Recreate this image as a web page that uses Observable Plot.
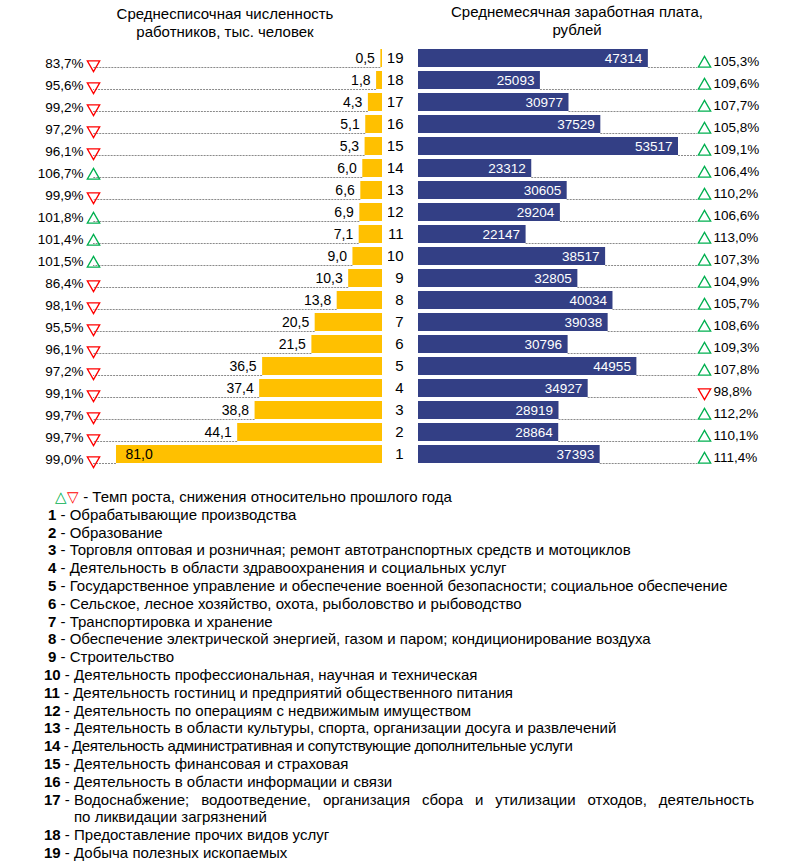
<!DOCTYPE html>
<html><head><meta charset="utf-8">
<script src="https://cdn.jsdelivr.net/npm/d3@7"></script>
<script src="https://cdn.jsdelivr.net/npm/@observablehq/plot@0.6"></script>
<style>
body{margin:0;background:#fff;font-family:"Liberation Sans",Arial,sans-serif;color:#000;}
#wrap{position:relative;width:788px;height:868px;overflow:hidden;}
.title{position:absolute;text-align:center;font-size:15px;line-height:17.5px;width:300px;}
#left{position:absolute;left:0;top:30px;}
#right{position:absolute;left:388px;top:30px;}
#legend{position:absolute;left:0;top:488px;width:788px;font-size:15px;line-height:17.8px;}
#legend .item{padding-left:74px;}
#legend .one{text-indent:-26px;}
#legend .two{text-indent:-30px;}
#legend .just{width:680px;text-align:justify;text-align-last:justify;}
#legend .lab{display:inline-block;text-indent:0;white-space:pre;}
#legend .tight{letter-spacing:-0.4px;}
.up{color:#00b050}.down{color:#ff0000}
</style></head>
<body>
<div id="wrap">
  <div class="title" style="left:75px;top:5px">Среднесписочная численность<br>работников, тыс. человек</div>
  <div class="title" style="left:427px;top:3px">Среднемесячная заработная плата,<br>рублей</div>
  <div id="left"></div>
  <div id="right"></div>
  <div id="legend"></div>
</div>
<script>
// ---- data ----
const codes = ["1","2","3","4","5","6","7","8","9","10","11","12","13","14","15","16","17","18","19"];
const employees = [81.0, 44.1, 38.8, 37.4, 36.5, 21.5, 20.5, 13.8, 10.3, 9.0, 7.1, 6.9, 6.6, 6.0, 5.3, 5.1, 4.3, 1.8, 0.5];
const employeesGrowth = [99.0, 99.7, 99.7, 99.1, 97.2, 96.1, 95.5, 98.1, 86.4, 101.5, 101.4, 101.8, 99.9, 106.7, 96.1, 97.2, 99.2, 95.6, 83.7];
const wages = [37393, 28864, 28919, 34927, 44955, 30796, 39038, 40034, 32805, 38517, 22147, 29204, 30605, 23312, 53517, 37529, 30977, 25093, 47314];
const wagesGrowth = [111.4, 110.1, 112.2, 98.8, 107.8, 109.3, 108.6, 105.7, 104.9, 107.3, 113.0, 106.6, 110.2, 106.4, 109.1, 105.8, 107.7, 109.6, 105.3];
const industries = [
  "Обрабатывающие производства",
  "Образование",
  "Торговля оптовая и розничная; ремонт автотранспортных средств и мотоциклов",
  "Деятельность в области здравоохранения и социальных услуг",
  "Государственное управление и обеспечение военной безопасности; социальное обеспечение",
  "Сельское, лесное хозяйство, охота, рыболовство и рыбоводство",
  "Транспортировка и хранение",
  "Обеспечение электрической энергией, газом и паром; кондиционирование воздуха",
  "Строительство",
  "Деятельность профессиональная, научная и техническая",
  "Деятельность гостиниц и предприятий общественного питания",
  "Деятельность по операциям с недвижимым имуществом",
  "Деятельность в области культуры, спорта, организации досуга и развлечений",
  "Деятельность административная и сопутствующие дополнительные услуги",
  "Деятельность финансовая и страховая",
  "Деятельность в области информации и связи",
  "Водоснабжение; водоотведение, организация сбора и утилизации отходов, деятельность по ликвидации загрязнений",
  "Предоставление прочих видов услуг",
  "Добыча полезных ископаемых"
];
const legendNote = "- Темп роста, снижения относительно прошлого года";
const leftTitle = "Среднесписочная численность работников, тыс. человек";
const rightTitle = "Среднемесячная заработная плата, рублей";

// scale extents (axis ends where the leader lines stop)
const empAxisMax = 88;
const wageAxisMax = 57430;

const rows = codes.map((c, i) => ({code: c, emp: employees[i], eg: employeesGrowth[i], wage: wages[i], wg: wagesGrowth[i]}));
const yDomain = codes.slice().reverse();
const comma = (v, f) => d3.format(f)(v).replace(".", ",");
const yellow = "#FFC000", blue = "#333F85", green = "#00B050", red = "#FF0000", lead = "#8a8a8a";
const baseStyle = {fontFamily: "'Liberation Sans', Arial, sans-serif", fontSize: "13.5px", background: "transparent", color: "#000"};

const leftPlot = Plot.plot({
  width: 388, height: 445,
  marginTop: 10, marginBottom: 2, marginLeft: 93, marginRight: 6,
  style: baseStyle,
  x: {domain: [0, empAxisMax], reverse: true, axis: null},
  y: {domain: yDomain, padding: 0.16, axis: null},
  marks: [
    Plot.ruleY(rows, {y: "code", x1: "emp", x2: () => empAxisMax, stroke: lead, strokeWidth: 1, strokeDasharray: "2,1", dy: 9}),
    Plot.barX(rows, {y: "code", x: "emp", fill: yellow}),
    Plot.text(rows.filter(d => d.emp < 60), {y: "code", x: "emp", text: d => comma(d.emp, ".1f"), textAnchor: "end", dx: -6, fontSize: 14, fill: "#000"}),
    Plot.text(rows.filter(d => d.emp >= 60), {y: "code", x: "emp", text: d => comma(d.emp, ".1f"), textAnchor: "start", dx: 9, fontSize: 14, fill: "#000"}),
    Plot.text(rows, {y: "code", frameAnchor: "left", text: d => comma(d.eg, ".1f") + "%", textAnchor: "end", dx: -10, dy: 5, fontSize: 13.5, fill: "#000"}),
    Plot.dot(rows.filter(d => d.eg >= 100), {y: "code", frameAnchor: "left", symbol: "triangle", r: 4.6, stroke: green, strokeWidth: 1.3, fill: "none", dy: 7}),
    Plot.dot(rows.filter(d => d.eg < 100), {y: "code", frameAnchor: "left", symbol: "triangle", rotate: 180, r: 4.6, stroke: red, strokeWidth: 1.3, fill: "none", dy: 6})
  ]
});
leftPlot.setAttribute("aria-label", leftTitle);
document.getElementById("left").appendChild(leftPlot);

const rightPlot = Plot.plot({
  width: 400, height: 445,
  marginTop: 10, marginBottom: 2, marginLeft: 30, marginRight: 91,
  style: baseStyle,
  x: {domain: [0, wageAxisMax], axis: null},
  y: {domain: yDomain, padding: 0.16, axis: null},
  marks: [
    Plot.ruleY(rows, {y: "code", x1: "wage", x2: () => wageAxisMax, stroke: lead, strokeWidth: 1, strokeDasharray: "2,1", dy: 9}),
    Plot.barX(rows, {y: "code", x: "wage", fill: blue}),
    Plot.text(rows, {y: "code", x: "wage", text: d => String(d.wage), textAnchor: "end", dx: -6, fontSize: 13.5, fill: "#fff"}),
    Plot.text(rows, {y: "code", x: 0, text: "code", textAnchor: "end", dx: -15, fontSize: 15, fill: "#000"}),
    Plot.text(rows, {y: "code", frameAnchor: "right", text: d => comma(d.wg, ".1f") + "%", textAnchor: "start", dx: 16, dy: 3, fontSize: 13.5, fill: "#000"}),
    Plot.dot(rows.filter(d => d.wg >= 100), {y: "code", frameAnchor: "right", symbol: "triangle", r: 4.6, stroke: green, strokeWidth: 1.3, fill: "none", dx: 7, dy: 5}),
    Plot.dot(rows.filter(d => d.wg < 100), {y: "code", frameAnchor: "right", symbol: "triangle", rotate: 180, r: 4.6, stroke: red, strokeWidth: 1.3, fill: "none", dx: 7, dy: 4})
  ]
});
rightPlot.setAttribute("aria-label", rightTitle);
document.getElementById("right").appendChild(rightPlot);

// ---- legend ----
const legend = document.getElementById("legend");
const note = document.createElement("div");
note.style.paddingLeft = "55px";
note.innerHTML = `<span class="up">△</span><span class="down">▽</span> ${legendNote}`;
legend.appendChild(note);
codes.forEach((c, i) => {
  const text = industries[i];
  if (c === "17") {
    const split = text.indexOf(" по ликвидации");
    const a = document.createElement("div");
    a.className = "item two just";
    a.innerHTML = `<span class="lab"><b>${c}</b> - </span>${text.slice(0, split)}`;
    const b = document.createElement("div");
    b.className = "item";
    b.textContent = text.slice(split + 1);
    legend.appendChild(a); legend.appendChild(b);
  } else {
    const d = document.createElement("div");
    let cls = "item " + (c.length > 1 ? "two" : "one");
    if (c === "14") cls += " tight";
    d.className = cls;
    d.innerHTML = `<b>${c}</b> - ${text}`;
    legend.appendChild(d);
  }
});
</script>
</body></html>
